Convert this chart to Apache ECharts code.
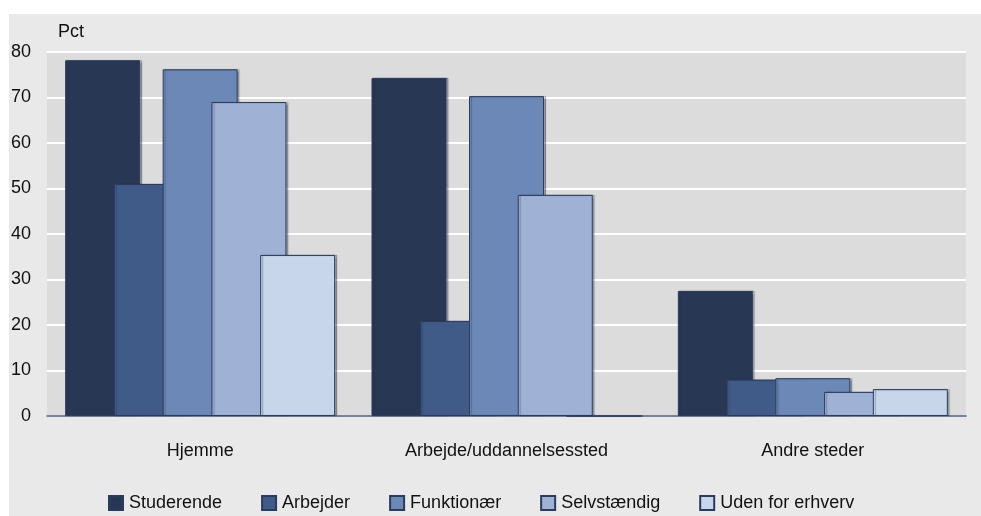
<!DOCTYPE html>
<html>
<head>
<meta charset="utf-8">
<script src="https://cdn.jsdelivr.net/npm/echarts@6/dist/echarts.min.js"></script>
<style>
html,body{margin:0;padding:0;background:#fff;}
#c{width:981px;height:516px;}
</style>
</head>
<body>
<div id="c"></div>
<script>
var categories = ['Hjemme', 'Arbejde/uddannelsessted', 'Andre steder'];
var seriesNames = ['Studerende', 'Arbejder', 'Funktionær', 'Selvstændig', 'Uden for erhverv'];
var studerende = [78.2, 74.3, 27.5];
var arbejder = [51.0, 20.9, 8.0];
var funktionaer = [76.2, 70.3, 8.3];
var selvstaendig = [69.0, 48.6, 5.3];
var udenForErhverv = [35.4, 0, 5.9];
var yTicks = [0, 10, 20, 30, 40, 50, 60, 70, 80];
var colors = ['#283754', '#415b89', '#6c88b7', '#9fb2d5', '#c7d6ea'];

var values = [studerende, arbejder, funktionaer, selvstaendig, udenForErhverv];
var FONT = '"Liberation Sans", Arial, sans-serif';

var chart = echarts.init(document.getElementById('c'));
var series = seriesNames.map(function (name, i) {
  return {
    name: name,
    type: 'bar',
    data: values[i],
    barWidth: 75,
    barGap: '-35%',
    itemStyle: {
      color: colors[i],
      borderColor: '#2b3b5c',
      borderWidth: 1,
      shadowColor: 'rgba(40,50,70,0.35)',
      shadowOffsetX: 2,
      shadowOffsetY: 0,
      shadowBlur: 1
    },
    emphasis: { disabled: true }
  };
});

chart.setOption({
  backgroundColor: '#ffffff',
  animation: false,
  color: colors,
  textStyle: { fontFamily: FONT },
  graphic: [
    { type: 'rect', z: -10, silent: true, shape: { x: 9, y: 14, width: 972, height: 502 }, style: { fill: '#e9e9e9' } },
    { type: 'text', left: 58, top: 23, z: 10, style: { text: 'Pct', font: '18px ' + FONT, fill: '#111' } }
  ],
  grid: {
    left: 47, right: 15, top: 52, bottom: 100,
    show: true, backgroundColor: '#dcdcdc', borderWidth: 0
  },
  legend: {
    left: 108, top: 494, padding: 0,
    itemWidth: 14, itemHeight: 14, itemGap: 39,
    icon: 'rect',
    textStyle: { fontSize: 18, color: '#111', fontFamily: FONT, padding: [0, 0, 0, 1] },
    data: seriesNames
  },
  xAxis: {
    type: 'category',
    data: categories,
    axisTick: { show: false },
    axisLine: { show: true, lineStyle: { color: '#4a5a7a', width: 1.5 } },
    axisLabel: { fontSize: 18, color: '#111', margin: 26, fontFamily: FONT },
    splitLine: { show: false }
  },
  yAxis: {
    type: 'value',
    min: yTicks[0],
    max: yTicks[yTicks.length - 1],
    interval: 10,
    axisLine: { show: false },
    axisTick: { show: false },
    axisLabel: { fontSize: 18, color: '#111', margin: 16, fontFamily: FONT },
    splitLine: { show: true, lineStyle: { color: '#ffffff', width: 2 } }
  },
  series: series
});
</script>
</body>
</html>
